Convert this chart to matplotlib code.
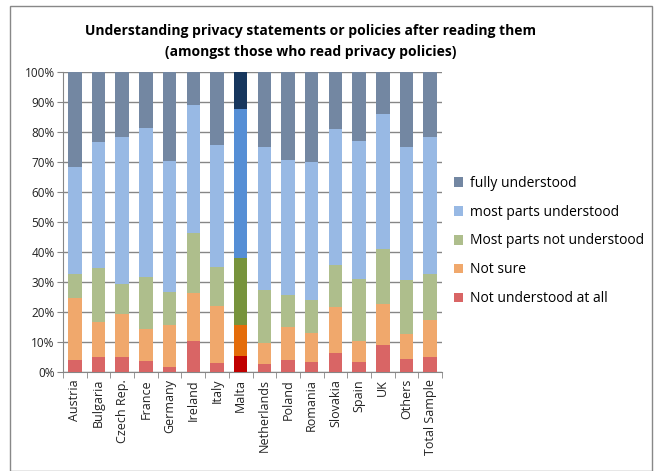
import numpy as np
import matplotlib
matplotlib.use("Agg")
import matplotlib.pyplot as plt
from matplotlib.patches import Rectangle

countries = ["Austria", "Bulgaria", "Czech Rep.", "France", "Germany", "Ireland",
             "Italy", "Malta", "Netherlands", "Poland", "Romania", "Slovakia",
             "Spain", "UK", "Others", "Total Sample"]

not_at_all = [4.0, 5.0, 5.0, 3.7, 1.7, 10.3, 3.0, 5.4, 2.7, 4.0, 3.3, 6.3, 3.3, 9.0, 4.3, 5.0]
not_sure = [20.8, 11.7, 14.4, 10.6, 13.9, 16.0, 19.1, 10.2, 6.9, 10.9, 9.6, 15.3, 7.0, 13.7, 8.4, 12.3]
most_not = [8.0, 18.1, 10.0, 17.4, 11.2, 20.0, 12.9, 22.5, 17.8, 10.8, 11.2, 14.1, 20.7, 18.3, 18.0, 15.5]
most_und = [35.6, 42.0, 49.1, 49.8, 43.6, 42.8, 40.8, 49.7, 47.7, 45.1, 46.0, 45.2, 45.9, 44.9, 44.3, 45.4]
fully = [31.6, 23.2, 21.5, 18.5, 29.6, 10.9, 24.2, 12.2, 24.9, 29.2, 29.9, 19.1, 23.1, 14.1, 25.0, 21.8]

series = [not_at_all, not_sure, most_not, most_und, fully]
labels = ["Not understood at all", "Not sure", "Most parts not understood",
          "most parts understood", "fully understood"]
colors = ["#D96565", "#F0A86C", "#AEBE8C", "#98B9E4", "#7387A2"]
highlight = ["#C00000", "#E46C0A", "#77933C", "#558ED5", "#17375E"]

plt.rcParams['font.family'] = ['Open Sans', 'DejaVu Sans']

fig = plt.figure(figsize=(6.61, 4.71), dpi=100)
ax = fig.add_axes([63 / 661, 1 - 372 / 471, (442 - 63) / 661, 300 / 471])

x = np.arange(len(countries))
bottom = np.zeros(len(countries))
handles = []
for vals, lab, c, hc in zip(series, labels, colors, highlight):
    cols = [hc if name == "Malta" else c for name in countries]
    b = ax.bar(x, vals, 0.57, bottom=bottom, color=cols, label=lab, zorder=3)
    handles.append(b)
    bottom += np.array(vals)

ax.set_xlim(-0.5, len(countries) - 0.5)
ax.set_ylim(0, 100)
ax.set_yticks(np.arange(0, 101, 10))
ax.set_yticklabels([f"{v}%" for v in range(0, 101, 10)], fontsize=8.5, color="#222222")
ax.yaxis.grid(True, color="#868686", linewidth=1, zorder=0)
ax.set_xticks(x)
ax.set_xticklabels(countries, rotation=90, fontsize=9, color="#222222")
ax.set_xticks(np.arange(-0.5, len(countries), 1), minor=True)
ax.tick_params(axis="x", which="major", length=0, pad=5)
ax.tick_params(axis="x", which="minor", length=4, color="#868686", direction="out")
ax.tick_params(axis="y", length=4, color="#868686", pad=2)
for s in ["top", "right"]:
    ax.spines[s].set_visible(False)
for s in ["left", "bottom"]:
    ax.spines[s].set_color("#868686")

fig.text(0.47, 1 - 31 / 471, "Understanding privacy statements or policies after reading them",
         ha="center", va="center", fontsize=10, fontweight="bold")
fig.text(0.47, 1 - 52 / 471, "(amongst those who read privacy policies)",
         ha="center", va="center", fontsize=10, fontweight="bold")

fig.legend(handles[::-1], labels[::-1], loc="center left",
           bbox_to_anchor=(441 / 661, 1 - 241 / 471), frameon=False,
           fontsize=10, handlelength=0.7, handleheight=0.7,
           labelspacing=1.0, handletextpad=0.5)

fig.patches.append(Rectangle((10 / 661, 0), 642 / 661, 1 - 6 / 471, transform=fig.transFigure,
                             fill=False, edgecolor="#888888", linewidth=1))

fig.savefig("out.png", dpi=100)
